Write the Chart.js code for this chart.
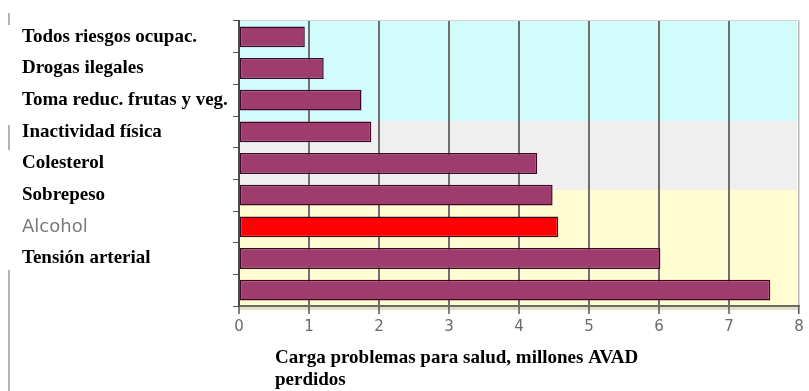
<!DOCTYPE html>
<html>
<head>
<meta charset="utf-8">
<script src="https://cdn.jsdelivr.net/npm/chart.js@4"></script>
<style>
  html, body { margin: 0; padding: 0; background: #fff; }
</style>
</head>
<body>
<canvas id="grafico" width="809" height="391"></canvas>
<script>
// Dados do gráfico (de cima para baixo)
var categorias = [
  'Todos riesgos ocupac.',
  'Drogas ilegales',
  'Toma reduc. frutas y veg.',
  'Inactividad física',
  'Colesterol',
  'Sobrepeso',
  'Alcohol',
  'Tensión arterial',
  ''
];
var valores = [0.94, 1.21, 1.75, 1.89, 4.26, 4.48, 4.56, 6.02, 7.59];
var coresBarras = ['#9e3c6e', '#9e3c6e', '#9e3c6e', '#9e3c6e', '#9e3c6e', '#9e3c6e', '#ff0000', '#9e3c6e', '#9e3c6e'];
var tituloEixo = ['Carga problemas para salud, millones AVAD', 'perdidos'];

// Faixas coloridas de fundo
var fundoFaixas = {
  id: 'fundoFaixas',
  beforeDraw: function (chart) {
    var ctx = chart.ctx;
    var a = chart.chartArea;
    var y = chart.scales.y;
    var corte1 = Math.round(y.getPixelForValue(2.65));
    var corte2 = Math.round(y.getPixelForValue(4.85));
    ctx.save();
    ctx.fillStyle = '#d2fcfc';
    ctx.fillRect(a.left, a.top, a.width - 2, corte1 - a.top);
    ctx.fillStyle = '#efefef';
    ctx.fillRect(a.left, corte1, a.width - 2, corte2 - corte1);
    ctx.fillStyle = '#fffcd2';
    ctx.fillRect(a.left, corte2, a.width - 2, a.bottom - corte2);
    // borda clara em cima
    ctx.strokeStyle = '#d4d4d4';
    ctx.lineWidth = 1;
    ctx.beginPath();
    ctx.moveTo(a.left, a.top - 0.5);
    ctx.lineTo(a.right + 0.5, a.top - 0.5);
    ctx.stroke();
    // faixa bege sob o eixo x
    ctx.fillStyle = '#e4e0c8';
    ctx.fillRect(a.left, a.bottom + 1, a.width, 3);
    ctx.restore();
  }
};

// Título do eixo x, alinhado à esquerda como no original
var tituloEixoX = {
  id: 'tituloEixoX',
  afterDraw: function (chart) {
    var ctx = chart.ctx;
    ctx.save();
    ctx.fillStyle = '#000';
    ctx.font = 'bold 19px "Liberation Serif"';
    ctx.textBaseline = 'middle';
    ctx.textAlign = 'left';
    tituloEixo.forEach(function (linha, i) {
      ctx.fillText(linha, 275, 358 + i * 22);
    });
    // restos de linhas cinzas à esquerda
    ctx.strokeStyle = '#9a9a9a';
    ctx.lineWidth = 1.5;
    ctx.beginPath();
    ctx.moveTo(9, 13); ctx.lineTo(9, 25);
    ctx.moveTo(9, 125); ctx.lineTo(9, 150);
    ctx.moveTo(9, 270); ctx.lineTo(9, 391);
    ctx.stroke();
    ctx.restore();
  }
};

var ctx = document.getElementById('grafico').getContext('2d');

new Chart(ctx, {
  type: 'bar',
  data: {
    labels: categorias,
    datasets: [{
      data: valores,
      backgroundColor: coresBarras,
      borderColor: '#3c0824',
      borderWidth: 1.5,
      borderSkipped: false,
      barPercentage: 0.66,
      categoryPercentage: 1
    }]
  },
  options: {
    indexAxis: 'y',
    responsive: false,
    animation: false,
    devicePixelRatio: 1,
    layout: {
      padding: { top: 21, left: 22, right: 10, bottom: 0 }
    },
    plugins: {
      legend: { display: false },
      tooltip: { enabled: false }
    },
    scales: {
      x: {
        min: 0,
        max: 8,
        ticks: {
          stepSize: 1,
          color: '#6a6a6a',
          padding: 4,
          font: { family: 'DejaVu Sans', size: 15 }
        },
        grid: {
          color: function (c) {
            if (c.tick.value === 0) return '#555';
            if (c.tick.value === 8) return '#b8b8b8';
            return '#707070';
          },
          lineWidth: function (c) {
            return c.tick.value === 8 ? 1.5 : 2;
          },
          tickLength: 8,
          tickColor: '#555',
          tickWidth: 1.5
        },
        border: { color: '#6e6c60', width: 2 },
        afterFit: function (s) { s.height = 85; }
      },
      y: {
        ticks: {
          crossAlign: 'far',
          padding: 0,
          color: function (c) {
            return categorias[c.index] === 'Alcohol' ? '#7a7a7a' : '#000';
          },
          font: function (c) {
            if (categorias[c.index] === 'Alcohol') {
              return { family: 'DejaVu Sans', size: 18 };
            }
            return { family: 'Liberation Serif', size: 19, weight: 'bold' };
          }
        },
        grid: {
          drawOnChartArea: false,
          tickLength: 6,
          tickColor: '#555',
          offset: true
        },
        border: { color: '#4a4a4a', width: 2 },
        afterFit: function (s) { s.width = 239 - 22; }
      }
    }
  },
  plugins: [fundoFaixas, tituloEixoX]
});
</script>
</body>
</html>
